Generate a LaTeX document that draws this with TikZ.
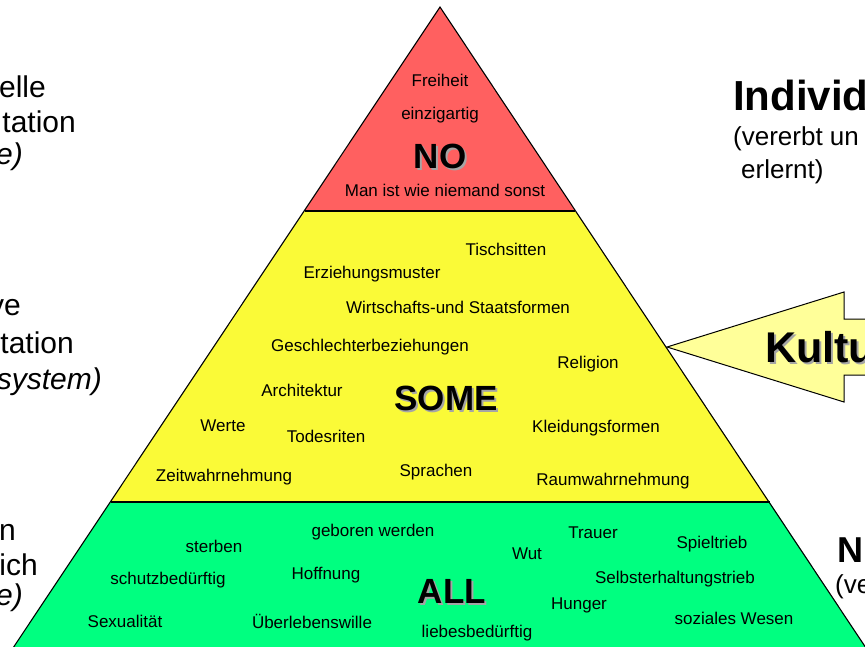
\documentclass[tikz,border=0pt]{standalone}
\usepackage{fontspec}
\setmainfont{Liberation Sans}
\definecolor{rotton}{RGB}{255,96,96}
\definecolor{gelbton}{RGB}{250,250,55}
\definecolor{gruenton}{RGB}{0,255,128}
\definecolor{pfeilton}{RGB}{255,255,153}
\definecolor{schattengrau}{RGB}{165,165,165}
\tikzset{
    stufe/.style={
        fill=#1,                  % Füllfarbe der Pyramidenstufe
        draw=none                 % Kanten werden extra gezogen
    },
    kante/.style={
        draw=black,               % schwarze Kontur
        line width=1.1pt,         % etwas kräftiger als Standard
        line join=miter
    },
    wort/.style={
        font=\fontsize{17}{19}\selectfont, % Stichwörter in der Pyramide
        anchor=base,              % y = Grundlinie
        inner sep=0pt
    },
    kopf/.style={
        font=\fontsize{35}{40}\selectfont\bfseries, % NO / SOME / ALL
        anchor=base,
        inner sep=0pt
    },
    kopfschatten/.style={
        kopf,
        text=schattengrau         % grauer Schatten, leicht versetzt
    },
    seite/.style={
        font=\fontsize{30}{35}\selectfont, % abgeschnittener Text links
        anchor=base east,
        inner sep=0pt
    },
    rechts/.style={
        font=\fontsize{#1}{#1}\selectfont, % Text rechts, Größe als Parameter
        anchor=base west,
        inner sep=0pt
    },
    rechtsfett/.style={
        font=\fontsize{#1}{#1}\selectfont\bfseries, % fette Überschrift rechts
        anchor=base west,
        inner sep=0pt
    }
}

\begin{document}
\begin{tikzpicture}[x=1pt,y=-1pt]
    \useasboundingbox (0,0) rectangle (865,646);

    % Pyramide
    \fill[stufe=gruenton] (110.5,502) -- (769.5,502) -- (866,648) -- (13,648) -- cycle;
    \fill[stufe=gelbton] (304.6,211) -- (575.4,211) -- (769.5,502) -- (110.5,502) -- cycle;
    \fill[stufe=rotton] (440,7) -- (575.4,211) -- (304.6,211) -- cycle;
    \draw[kante] (13,648) -- (440,7) -- (866,648);
    \draw[kante] (304.6,211) -- (575.4,211);
    \draw[kante] (110.5,502) -- (769.5,502);

    % Pfeil Kultur
    \draw[kante, line width=1pt, fill=pfeilton] (667,347) -- (844,292) -- (844,319) -- (872,319)
        -- (872,375) -- (844,375) -- (844,402) -- cycle;

    % Spitze
    \node[wort] (freiheit) at (440,86) {Freiheit};
    \node[wort] (einzig) at (440,119) {einzigartig};
    \node[kopfschatten] (no-s) at (442,170) {NO};
    \node[kopf] (no) at (440,168) {NO};
    \node[wort] (niemand) at (445,196) {Man ist wie niemand sonst};

    % Mitte
    \node[wort] (tisch) at (506,255) {Tischsitten};
    \node[wort] (erziehung) at (372,278) {Erziehungsmuster};
    \node[wort] (wirtschaft) at (458,313) {Wirtschafts-und Staatsformen};
    \node[wort] (geschlecht) at (370,351) {Geschlechterbeziehungen};
    \node[wort] (religion) at (588,368) {Religion};
    \node[wort] (architektur) at (302,396) {Architektur};
    \node[kopfschatten] (some-s) at (448,412) {SOME};
    \node[kopf] (some) at (446,410) {SOME};
    \node[wort] (werte) at (223,431) {Werte};
    \node[wort] (tod) at (326,442) {Todesriten};
    \node[wort] (kleidung) at (596,432) {Kleidungsformen};
    \node[wort] (zeit) at (224,481) {Zeitwahrnehmung};
    \node[wort] (sprachen) at (436,476) {Sprachen};
    \node[wort] (raum) at (613,485) {Raumwahrnehmung};

    % Basis
    \node[wort] (geboren) at (373,536) {geboren werden};
    \node[wort] (sterben) at (214,552) {sterben};
    \node[wort] (schutz) at (168,584) {schutzbedürftig};
    \node[wort] (hoffnung) at (326,579) {Hoffnung};
    \node[wort] (sex) at (125,627) {Sexualität};
    \node[wort] (ueberleben) at (312,628) {Überlebenswille};
    \node[kopfschatten] (all-s) at (454,605) {ALL};
    \node[kopf] (all) at (452,603) {ALL};
    \node[wort] (liebe) at (477,637) {liebesbedürftig};
    \node[wort] (trauer) at (593,538) {Trauer};
    \node[wort] (wut) at (527,559) {Wut};
    \node[wort] (spiel) at (712,548) {Spieltrieb};
    \node[wort] (selbst) at (675,583) {Selbsterhaltungstrieb};
    \node[wort] (hunger) at (579,609) {Hunger};
    \node[wort] (sozial) at (734,624) {soziales Wesen};

    % links (abgeschnitten)
    \node[seite] (l1a) at (46,97) {elle};
    \node[seite] (l1b) at (76,132) {tation};
    \node[seite] (l1c) at (23,164) {\itshape e)};
    \node[seite] (l2a) at (21,315) {ve};
    \node[seite] (l2b) at (74,353) {tation};
    \node[seite] (l2c) at (102,389) {\itshape ssystem)};
    \node[seite] (l3a) at (16,540) {n};
    \node[seite] (l3b) at (38,575) {ich};
    \node[seite] (l3c) at (23,605) {\itshape e)};

    % rechts (abgeschnitten)
    \node[rechtsfett=42] (indiv) at (733,110) {Individ};
    \node[rechts=26] (vererbt) at (733,145) {(vererbt un};
    \node[rechts=26] (erlernt) at (741,178) {erlernt)};
    \node[rechtsfett=43, text=schattengrau] (kultur-s) at (767,364) {Kultu};
    \node[rechtsfett=43] (kultur) at (765,362) {Kultu};
    \node[rechtsfett=36] (natur) at (837,562) {N};
    \node[rechts=26] (ve) at (835,593) {(ve};
\end{tikzpicture}
\end{document}
